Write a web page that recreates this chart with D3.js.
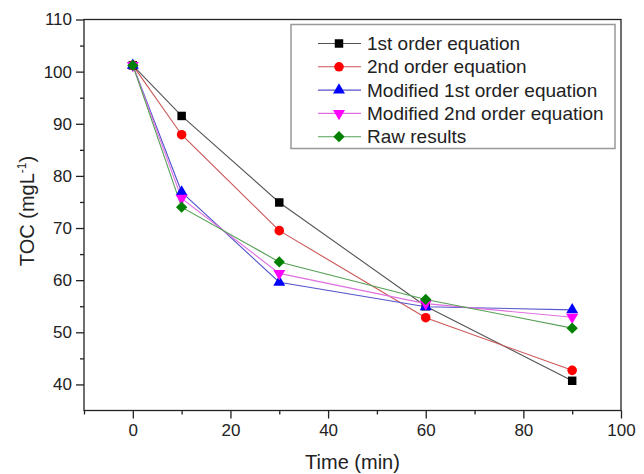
<!DOCTYPE html>
<html>
<head>
<meta charset="utf-8">
<script src="https://cdn.jsdelivr.net/npm/d3@7"></script>
<style>
    body { margin: 0; background: #fff; }
    text { font-family: "Liberation Sans", Arial, sans-serif; }
</style>
</head>
<body>
<div id="chart"></div>
<script>
// TOC removal kinetics - model fits vs raw results

const times = [0, 10, 30, 60, 90];
const firstOrder = [101.2, 91.5, 74.9, 55.0, 40.7];
const secondOrder = [101.2, 87.9, 69.5, 52.8, 42.7];
const modFirstOrder = [101.2, 76.9, 59.6, 54.9, 54.3];
const modSecondOrder = [101.2, 75.7, 61.3, 55.5, 52.9];
const rawResults = [101.2, 74.0, 63.5, 56.3, 50.8];

const seriesNames = ['1st order equation', '2nd order equation', 'Modified 1st order equation',
    'Modified 2nd order equation', 'Raw results'];
const xTicks = [0, 20, 40, 60, 80, 100];
const yTicks = [40, 50, 60, 70, 80, 90, 100, 110];

const series = [
    { name: seriesNames[0], values: firstOrder, color: '#000000', line: '#555555', symbol: d3.symbolSquare, size: 72, rot: 0 },
    { name: seriesNames[1], values: secondOrder, color: '#ff0000', line: '#cc5555', symbol: d3.symbolCircle, size: 72, rot: 0 },
    { name: seriesNames[2], values: modFirstOrder, color: '#0000ff', line: '#5555cc', symbol: d3.symbolTriangle, size: 62, rot: 0 },
    { name: seriesNames[3], values: modSecondOrder, color: '#ff00ff', line: '#e070e0', symbol: d3.symbolTriangle, size: 62, rot: 180 },
    { name: seriesNames[4], values: rawResults, color: '#008000', line: '#55a055', symbol: d3.symbolSquare, size: 64, rot: 45 }
];

function initChart() {
    const W = 644, H = 474;
    const left = 84, right = 621, top = 19.5, bottom = 410.5;

    const svg = d3.select('#chart').append('svg')
        .attr('width', W)
        .attr('height', H);

    const xScale = d3.scaleLinear().domain([-10, 100]).range([left, right]);
    const yScale = d3.scaleLinear().domain([35, 110]).range([bottom, top]);

    // Frame
    svg.append('rect')
        .attr('x', left).attr('y', top)
        .attr('width', right - left).attr('height', bottom - top)
        .attr('fill', 'none')
        .attr('stroke', '#222')
        .attr('stroke-width', 1.3);

    // Bottom axis, ticks outward
    const xAxis = d3.axisBottom(xScale)
        .tickValues(xTicks)
        .tickSize(8)
        .tickPadding(5)
        .tickFormat(d3.format('d'));
    const xg = svg.append('g')
        .attr('transform', `translate(0,${bottom})`)
        .call(xAxis);
    xg.select('.domain').remove();
    xg.selectAll('line').attr('stroke', '#222').attr('stroke-width', 1.3);
    xg.selectAll('text').style('font-size', '17px').attr('fill', '#222')
        .attr('font-family', '"Liberation Sans", Arial, sans-serif');

    const xMinor = d3.axisBottom(xScale)
        .tickValues([-10, 10, 30, 50, 70, 90])
        .tickSize(4)
        .tickFormat('');
    const xmg = svg.append('g')
        .attr('transform', `translate(0,${bottom})`)
        .call(xMinor);
    xmg.select('.domain').remove();
    xmg.selectAll('line').attr('stroke', '#222').attr('stroke-width', 1.3);

    // Left axis, ticks outward
    const yAxis = d3.axisLeft(yScale)
        .tickValues(yTicks)
        .tickSize(8)
        .tickPadding(4)
        .tickFormat(d3.format('d'));
    const yg = svg.append('g')
        .attr('transform', `translate(${left},0)`)
        .call(yAxis);
    yg.select('.domain').remove();
    yg.selectAll('line').attr('stroke', '#222').attr('stroke-width', 1.3);
    yg.selectAll('text').style('font-size', '17px').attr('fill', '#222')
        .attr('font-family', '"Liberation Sans", Arial, sans-serif');

    const yMinor = d3.axisLeft(yScale)
        .tickValues([45, 55, 65, 75, 85, 95, 105])
        .tickSize(4)
        .tickFormat('');
    const ymg = svg.append('g')
        .attr('transform', `translate(${left},0)`)
        .call(yMinor);
    ymg.select('.domain').remove();
    ymg.selectAll('line').attr('stroke', '#222').attr('stroke-width', 1.3);

    // Axis labels
    svg.append('text')
        .attr('text-anchor', 'middle')
        .attr('x', (left + right) / 2)
        .attr('y', 469)
        .style('font-size', '20px')
        .attr('fill', '#222')
        .text('Time (min)');

    const yLabel = svg.append('text')
        .attr('text-anchor', 'middle')
        .attr('transform', `translate(34,${(top + bottom) / 2 - 4}) rotate(-90)`)
        .style('font-size', '20px')
        .attr('fill', '#222');
    yLabel.append('tspan').text('TOC (mgL');
    yLabel.append('tspan').attr('dy', -8).style('font-size', '12px').text('-1');
    yLabel.append('tspan').attr('dy', 8).text(')');

    const symbolPath = (s) => d3.symbol(s.symbol, s.size)();
    const symbolRotate = (s) => s.rot ? ` rotate(${s.rot})` : '';

    const line = d3.line()
        .x((d, i) => xScale(times[i]))
        .y(d => yScale(d));

    // Lines first, then markers
    const plot = svg.append('g');
    series.forEach(s => {
        plot.append('path')
            .datum(s.values)
            .attr('d', line)
            .attr('fill', 'none')
            .attr('stroke', s.line)
            .attr('stroke-width', 1.1);
    });
    series.forEach(s => {
        plot.selectAll(null)
            .data(s.values)
            .enter()
            .append('path')
            .attr('d', symbolPath(s))
            .attr('transform', (d, i) => `translate(${xScale(times[i])},${yScale(d)})${symbolRotate(s)}`)
            .attr('fill', s.color);
    });

    // Legend
    const legend = svg.append('g');
    legend.append('rect')
        .attr('x', 291).attr('y', 24.5)
        .attr('width', 324).attr('height', 124)
        .attr('fill', '#fff')
        .attr('stroke', '#999')
        .attr('stroke-width', 1.5);

    series.forEach((s, i) => {
        const ly = 43.5 + i * 23.3;
        legend.append('line')
            .attr('x1', 318).attr('x2', 361)
            .attr('y1', ly).attr('y2', ly)
            .attr('stroke', s.line)
            .attr('stroke-width', 1.1);
        legend.append('path')
            .attr('d', symbolPath(s))
            .attr('transform', `translate(339,${ly})${symbolRotate(s)}`)
            .attr('fill', s.color);
        legend.append('text')
            .attr('x', 367)
            .attr('y', ly)
            .attr('dy', '0.35em')
            .style('font-size', '19px')
            .attr('fill', '#222')
            .text(s.name);
    });
}

initChart();
</script>
</body>
</html>
